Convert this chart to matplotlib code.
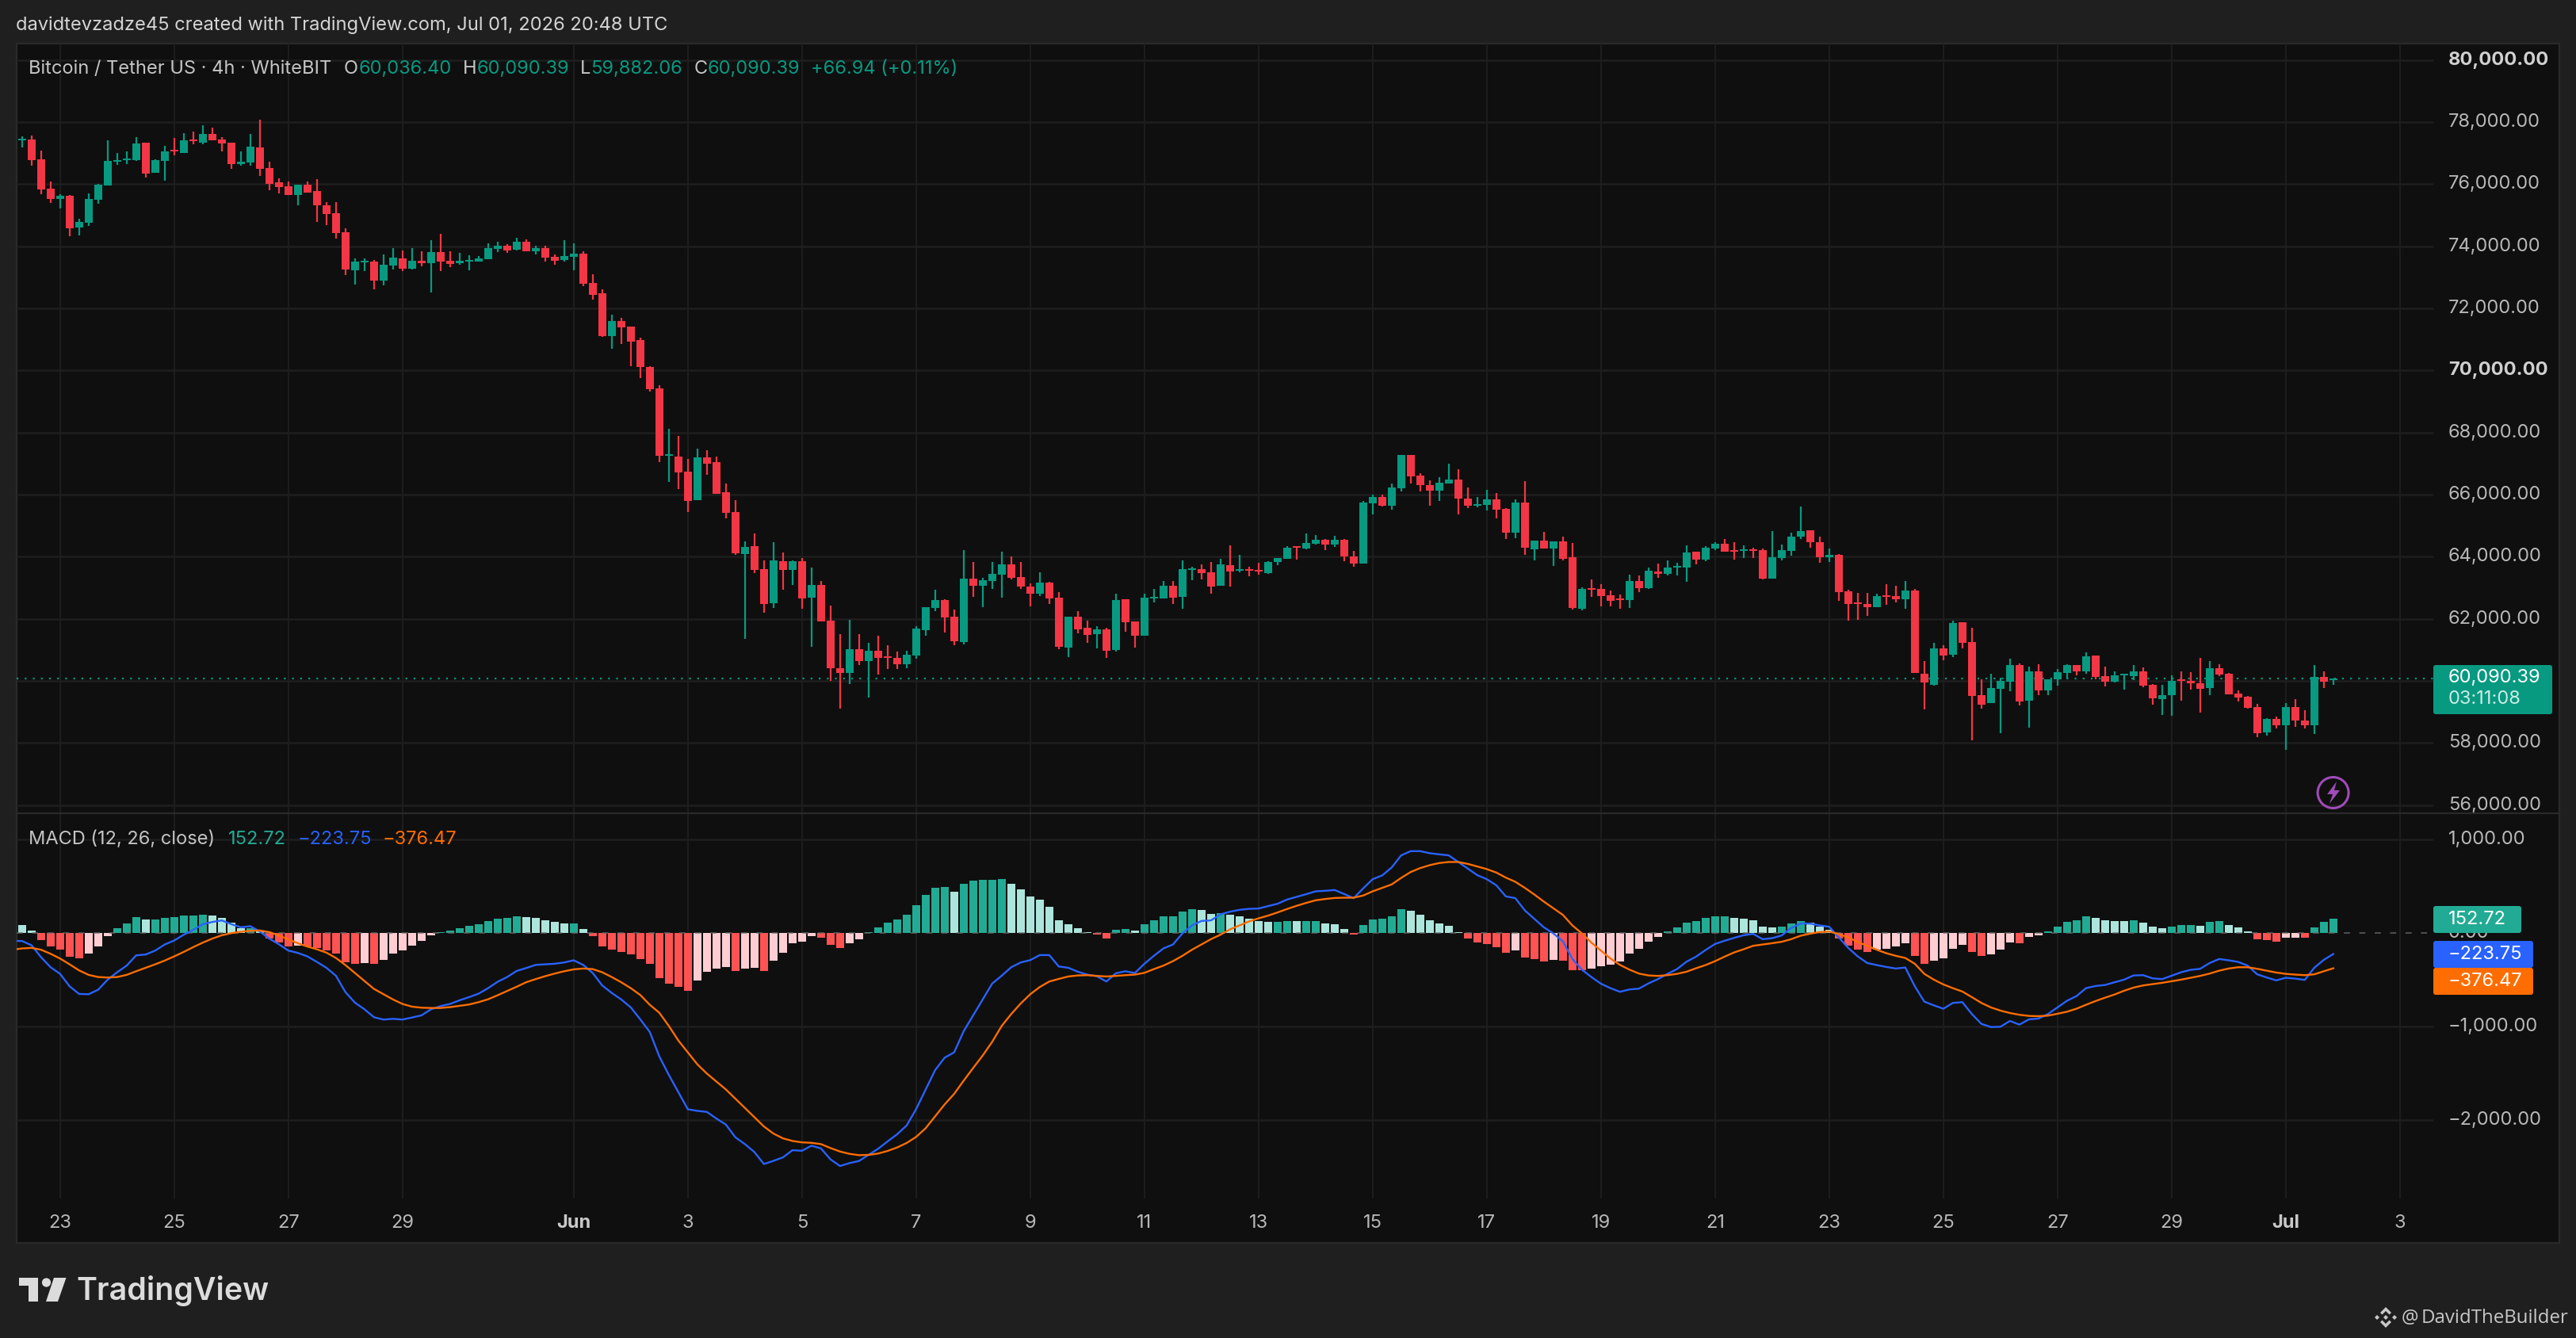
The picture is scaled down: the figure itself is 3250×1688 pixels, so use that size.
import numpy as np
import matplotlib
matplotlib.use('Agg')
import matplotlib.pyplot as plt
from matplotlib.patches import Polygon, Circle, FancyBboxPatch

plt.rcParams['font.family'] = ['Inter', 'DejaVu Sans']

# 4h candles, index 0 = May 23 00:00, six bars per day
opens = [
    77421, 77438, 76800, 75855, 75524, 75626, 74604, 74758, 75498, 75958,
    76723, 76775, 76775, 77336, 76366, 76749, 77106, 77004, 77438, 77336,
    77617, 77438, 77336, 76647, 76698, 77183, 76519, 76060, 75932, 75651,
    75983, 75779, 75319, 75064, 74451, 73226, 73481, 73507, 72894, 73379,
    73609, 73277, 73532, 73456, 73813, 73532, 73456, 73507, 73507, 73583,
    73915, 74017, 73889, 74145, 73838, 73940, 73660, 73558, 73660, 73762,
    72817, 72485, 71107, 71592, 71413, 70979, 70119, 69430, 67260, 67234,
    66749, 65830, 67209, 67055, 66085, 65447, 64094, 64349, 63609, 62511,
    63864, 63583, 63864, 62690, 63098, 61949, 60418, 60264, 61030, 60647,
    60979, 60800, 60749, 60545, 60826, 61643, 62358, 62613, 62077, 61260,
    63303, 63073, 63226, 63430, 63762, 63354, 63047, 62818, 63175, 62690,
    61082, 62077, 61720, 61516, 61669, 61005, 62639, 61924, 61464, 62664,
    62664, 63073, 62716, 63583, 63609, 63507, 63073, 63737, 63558, 63609,
    63583, 63481, 63821, 63923, 64332, 64255, 64408, 64536, 64383, 64536,
    64000, 63770, 65711, 65915, 65634, 66196, 67268, 66604, 66298, 66119,
    66349, 66477, 65864, 65634, 65660, 65838, 65532, 64766, 65736, 64230,
    64511, 64255, 64485, 63974, 62315, 62979, 62953, 62749, 62647, 62596,
    63209, 62979, 63515, 63438, 63643, 63643, 64153, 63898, 64255, 64408,
    64204, 64179, 64230, 64204, 63285, 63949, 64179, 64638, 64843, 64460,
    63974, 64051, 62877, 62519, 62468, 62366, 62749, 62723, 62621, 62902,
    60239, 59881, 61055, 60851, 61898, 61260, 59549, 59294, 59754, 59983,
    60519, 59370, 60315, 59703, 60060, 60264, 60519, 60315, 60826, 60162,
    59983, 60187, 60162, 60315, 59881, 59421, 59549, 60060, 60009, 59932,
    59779, 60417, 60239, 59600, 59498, 59166, 58349, 58783, 58579, 59166,
    58732, 58579, 60136, 60036.40,
]
highs = [
    77540, 77566, 77081, 76085, 75677, 75651, 74885, 75702, 76009, 77413,
    77004, 77055, 77515, 77336, 76800, 77234, 77489, 77643, 77694, 77898,
    77821, 77515, 77336, 77055, 77617, 78077, 76723, 76187, 76085, 75983,
    76085, 76162, 75421, 75421, 74579, 73609, 73609, 73558, 73736, 73940,
    73864, 73940, 73838, 74196, 74400, 73838, 73787, 73711, 73685, 74094,
    74145, 74068, 74272, 74221, 74017, 74017, 73736, 74196, 74094, 73838,
    73098, 72613, 71796, 71694, 71413, 71056, 70137, 69532, 68128, 67898,
    67158, 67490, 67438, 67234, 66366, 65830, 64503, 64758, 63890, 64477,
    64145, 63890, 63966, 63660, 63226, 62434, 61515, 61975, 61515, 61235,
    61464, 61158, 60954, 60979, 61771, 62384, 62945, 62639, 62307, 64222,
    63839, 63328, 63839, 64171, 64017, 63839, 63149, 63507, 63200, 62869,
    62077, 62256, 61950, 61771, 61720, 62818, 62639, 61924, 62818, 62971,
    63226, 63226, 63890, 63686, 63762, 63839, 63941, 64375, 64069, 63686,
    63813, 63860, 63949, 64332, 64332, 64740, 64689, 64562, 64664, 64562,
    64179, 65787, 65991, 65991, 66349, 67268, 67268, 66681, 66451, 66553,
    66988, 66809, 66221, 65915, 66145, 66043, 65558, 65838, 66425, 64511,
    64791, 64485, 64638, 64434, 63004, 63260, 63106, 62902, 62774, 63413,
    63387, 63643, 63770, 63872, 63796, 64357, 64153, 64332, 64460, 64562,
    64460, 64357, 64281, 64255, 64817, 64383, 64766, 65608, 64843, 64638,
    64255, 64077, 62928, 62826, 62826, 62800, 63106, 63055, 63209, 62953,
    60647, 61234, 61158, 61949, 61898, 61719, 60060, 60239, 60111, 60724,
    60570, 60468, 60545, 60060, 60392, 60545, 60519, 60928, 60826, 60468,
    60315, 60239, 60519, 60443, 59907, 59881, 60187, 60315, 60290, 60749,
    60647, 60545, 60264, 59702, 59523, 59268, 58809, 58860, 59294, 59421,
    59064, 60519, 60315, 60090.39,
]
lows = [
    77183, 76604, 75677, 75396, 75217, 74324, 74349, 74656, 75370, 75958,
    76621, 76647, 76749, 76213, 76366, 76111, 76928, 77004, 77285, 77285,
    77413, 77055, 76494, 76596, 76596, 76264, 75804, 75702, 75651, 75319,
    75728, 74783, 74681, 74247, 73073, 72766, 73200, 72613, 72741, 73251,
    73200, 73251, 73354, 72511, 73200, 73328, 73404, 73226, 73507, 73583,
    73813, 73787, 73864, 73838, 73736, 73507, 73404, 73507, 73226, 72715,
    72281, 71081, 70698, 70851, 70137, 69754, 69320, 67055, 66417, 66188,
    65447, 65830, 66647, 66034, 65243, 64069, 61362, 63481, 62205, 62358,
    62945, 63098, 62333, 61107, 61924, 60009, 59116, 59907, 60520, 59474,
    60213, 60392, 60392, 60418, 60724, 61464, 62256, 61567, 61158, 61184,
    62716, 62384, 62971, 62690, 63277, 62971, 62409, 62741, 62486, 61030,
    60775, 61541, 61235, 61056, 60749, 60954, 61592, 61081, 61464, 62537,
    62664, 62486, 62333, 63252, 63277, 62818, 63073, 63047, 63507, 63379,
    63430, 63440, 63719, 63923, 63898, 64230, 64383, 64204, 64306, 63847,
    63668, 63770, 65353, 65609, 65507, 66094, 66349, 66094, 65634, 65787,
    66349, 65353, 65558, 65583, 65490, 65226, 64562, 64587, 64051, 63872,
    64255, 63694, 63872, 62289, 62264, 62698, 62391, 62391, 62315, 62340,
    62851, 62953, 63311, 63387, 63387, 63183, 63745, 63847, 64204, 64153,
    63898, 63949, 63949, 63260, 63285, 63872, 64026, 64562, 64281, 63796,
    63821, 62570, 61932, 61958, 62085, 62366, 62443, 62519, 62315, 60247,
    59090, 59856, 60673, 60775, 61055, 58094, 59115, 59294, 58324, 59677,
    59217, 58502, 59549, 59549, 59856, 60085, 60187, 60239, 60060, 59830,
    59958, 59728, 60034, 59805, 59243, 58911, 58885, 59370, 59728, 58987,
    59549, 60162, 59575, 59345, 59115, 58196, 58247, 58477, 57787, 58528,
    58477, 58298, 59779, 59882.06,
]
closes = [
    77472, 76775, 75830, 75524, 75626, 74579, 74783, 75524, 75983, 76749,
    76775, 76826, 77311, 76340, 76775, 77055, 77055, 77413, 77387, 77617,
    77413, 77311, 76647, 76723, 77209, 76494, 76009, 75907, 75651, 75983,
    75728, 75319, 75038, 74426, 73251, 73507, 73532, 72894, 73404, 73634,
    73277, 73532, 73456, 73813, 73507, 73430, 73532, 73558, 73609, 73940,
    74017, 73864, 74145, 73838, 73940, 73634, 73532, 73685, 73762, 72792,
    72434, 71107, 71592, 71387, 70928, 70111, 69404, 67260, 67311, 66724,
    65804, 67209, 67004, 66034, 65422, 64120, 64324, 63583, 62486, 63890,
    63583, 63864, 62664, 63098, 61924, 60418, 60264, 61030, 60647, 60979,
    60749, 60749, 60545, 60852, 61694, 62384, 62613, 62052, 61286, 63303,
    63073, 63252, 63456, 63762, 63328, 63047, 62818, 63175, 62664, 61107,
    62077, 61669, 61490, 61669, 60979, 62613, 61898, 61464, 62690, 62716,
    63073, 62690, 63609, 63635, 63481, 63047, 63762, 63532, 63609, 63558,
    63532, 63839, 63949, 64281, 64281, 64434, 64536, 64383, 64536, 64000,
    63770, 65736, 65915, 65634, 66221, 67268, 66579, 66298, 66119, 66375,
    66477, 65864, 65634, 65685, 65838, 65507, 64766, 65736, 64281, 64511,
    64255, 64485, 63923, 62340, 62953, 62928, 62723, 62570, 62596, 63209,
    62979, 63540, 63438, 63643, 63694, 64128, 63898, 64281, 64408, 64153,
    64153, 64230, 64179, 63285, 63974, 64204, 64638, 64817, 64460, 63974,
    64051, 62851, 62468, 62468, 62366, 62723, 62698, 62621, 62902, 60247,
    59958, 61055, 60826, 61873, 61234, 59524, 59243, 59779, 60009, 60519,
    59345, 60315, 59703, 60060, 60290, 60519, 60315, 60800, 60136, 59983,
    60187, 60239, 60315, 59856, 59447, 59549, 60009, 60009, 59932, 59754,
    60417, 60213, 59575, 59473, 59141, 58324, 58783, 58579, 59166, 58732,
    58579, 60136, 59983, 60090.39,
]

hist = [
    85, 25, -76, -144, -178, -254, -271, -220, -144, -34,
    51, 102, 170, 144, 144, 161, 170, 187, 187, 195,
    187, 161, 110, 51, 51, 17, -59, -102, -144, -136,
    -144, -161, -187, -220, -314, -331, -322, -331, -288, -220,
    -187, -136, -85, -25, 8, 25, 51, 76, 93, 127,
    153, 161, 178, 170, 161, 136, 119, 102, 102, 42,
    -34, -144, -178, -204, -229, -280, -331, -483, -543, -577,
    -619, -509, -416, -382, -365, -407, -382, -373, -407, -297,
    -212, -110, -93, -34, -51, -127, -161, -110, -68, 8,
    59, 110, 144, 195, 297, 407, 483, 492, 441, 526,
    560, 568, 568, 577, 526, 466, 390, 356, 280, 136,
    93, 51, 8, -17, -59, 34, 42, 25, 93, 136,
    178, 178, 229, 254, 246, 204, 212, 195, 178, 153,
    127, 119, 119, 127, 125, 127, 127, 102, 93, 42,
    -17, 85, 144, 153, 178, 254, 237, 195, 136, 102,
    76, 8, -59, -102, -119, -153, -212, -187, -263, -280,
    -305, -288, -297, -399, -399, -382, -356, -339, -305, -220,
    -170, -93, -42, 17, 59, 110, 127, 161, 178, 178,
    161, 153, 136, 68, 59, 68, 102, 127, 110, 68,
    34, -59, -136, -178, -204, -178, -170, -144, -110, -246,
    -331, -297, -271, -170, -127, -204, -246, -229, -178, -102,
    -110, -42, -25, 17, 68, 119, 136, 178, 161, 136,
    133, 130, 136, 110, 68, 51, 68, 85, 85, 76,
    119, 127, 85, 59, 17, -68, -76, -93, -51, -49,
    -51, 59, 119, 152.72,
]
# both lines start one bar earlier than the candles, at the pane's left edge
macd = [
    -82,
    -85, -130, -258, -365, -436, -569, -651, -654, -606, -498,
    -419, -348, -238, -229, -187, -122, -79, -17, 34, 96,
    119, 136, 96, 62, 74, 17, -59, -119, -187, -212,
    -249, -308, -371, -456, -631, -744, -815, -900, -925, -917,
    -925, -903, -880, -815, -781, -758, -719, -685, -648, -589,
    -521, -470, -405, -374, -340, -334, -328, -314, -291, -340,
    -427, -560, -640, -710, -795, -923, -1058, -1319, -1517, -1701,
    -1885, -1902, -1913, -1984, -2049, -2185, -2258, -2343, -2471, -2437,
    -2400, -2323, -2329, -2275, -2304, -2421, -2492, -2461, -2438, -2373,
    -2308, -2229, -2153, -2059, -1884, -1675, -1466, -1333, -1276, -1050,
    -880, -710, -540, -456, -365, -314, -289, -235, -235, -357,
    -371, -413, -444, -461, -518, -430, -408, -427, -328, -243,
    -164, -122, -3, 82, 130, 136, 201, 229, 249, 260,
    263, 289, 314, 359, 388, 416, 447, 453, 461, 419,
    374, 478, 577, 617, 702, 832, 877, 877, 855, 843,
    832, 761, 691, 620, 577, 512, 393, 374, 243, 153,
    62, -3, -88, -277, -391, -470, -541, -589, -628, -603,
    -594, -538, -492, -436, -385, -306, -252, -181, -116, -82,
    -51, -23, -8, -65, -54, -25, 54, 102, 102, 82,
    68, -45, -158, -249, -320, -342, -362, -379, -368, -569,
    -733, -773, -809, -747, -739, -866, -971, -1005, -1002, -940,
    -979, -923, -914, -866, -795, -724, -674, -589, -566, -555,
    -526, -498, -453, -450, -484, -492, -456, -419, -393, -382,
    -320, -277, -291, -308, -348, -441, -475, -506, -478, -487,
    -501, -371, -286, -223.75,
]
signal = [
    -178,
    -164, -158, -178, -221, -272, -334, -399, -447, -470, -475,
    -470, -447, -408, -371, -334, -294, -249, -201, -150, -102,
    -59, -23, 0, 14, 25, 28, 11, -25, -68, -108,
    -144, -173, -209, -266, -342, -427, -512, -597, -654, -710,
    -758, -787, -798, -801, -801, -792, -778, -764, -739, -708,
    -665, -620, -574, -526, -492, -461, -433, -408, -388, -379,
    -385, -419, -470, -526, -589, -662, -767, -852, -993, -1149,
    -1276, -1404, -1503, -1588, -1673, -1772, -1871, -1970, -2069, -2145,
    -2196, -2224, -2239, -2244, -2258, -2300, -2337, -2362, -2376, -2373,
    -2359, -2331, -2294, -2246, -2181, -2088, -1961, -1833, -1720, -1579,
    -1443, -1310, -1163, -993, -866, -753, -654, -577, -518, -490,
    -464, -453, -450, -458, -464, -458, -450, -444, -425, -385,
    -348, -300, -243, -178, -122, -65, -17, 40, 82, 125,
    158, 187, 221, 258, 292, 323, 351, 365, 376, 379,
    379, 402, 447, 484, 521, 591, 654, 696, 727, 750,
    761, 761, 741, 713, 685, 648, 594, 549, 484, 413,
    337, 266, 195, 82, -3, -102, -187, -272, -340, -391,
    -433, -453, -458, -450, -436, -413, -376, -342, -300, -252,
    -207, -173, -136, -122, -108, -93, -65, -28, -6, 11,
    17, -11, -45, -96, -136, -178, -215, -243, -266, -328,
    -436, -498, -549, -589, -625, -685, -747, -795, -829, -855,
    -874, -886, -889, -883, -863, -841, -809, -767, -727, -691,
    -657, -617, -583, -560, -546, -532, -515, -498, -478, -458,
    -433, -402, -379, -365, -365, -382, -402, -422, -436, -444,
    -450, -441, -408, -376.47,
]

price_ticks = [80000, 78000, 76000, 74000, 72000, 70000, 68000, 66000, 64000, 62000, 60000, 58000, 56000]
price_bold = [80000, 70000]
macd_ticks = [1000, 0, -1000, -2000]
macd_tick_labels = ['1,000.00', '0.00', '\u22121,000.00', '\u22122,000.00']
time_ticks = [0, 12, 24, 36, 54, 66, 78, 90, 102, 114, 126, 138, 150, 162, 174, 186, 198, 210, 222, 234, 246]
time_labels = ['23', '25', '27', '29', 'Jun', '3', '5', '7', '9', '11', '13', '15', '17', '19', '21', '23', '25', '27', '29', 'Jul', '3']
last_price = 60090.39

# colours
OUTER = '#1f1f1f'
PANE = '#0f0f0f'
GRID = '#1e1e1e'
EDGE = '#2a2a2a'
TXT = '#b8b8b8'
UP = '#089981'
DOWN = '#f23645'
H_UP, H_UP_L = '#22ab94', '#ace5dc'
H_DN, H_DN_L = '#ff5252', '#ffcdd2'
BLUE = '#2962ff'
ORANGE = '#ff6d00'

# layout in pixels
W, H = 3250, 1688
LEFT, RIGHT = 21, 3229
TOP, SPLIT, MACD_BOTTOM, BOTTOM = 55, 1026, 1512, 1568
GRID_END = 3070
X0, BAR = 75.8, 12.0     # pixel of index 0, pixels per bar


def px_x(p):
    return (p - X0) / BAR


def add_px_axes(top, bottom):
    return fig.add_axes([LEFT / W, 1 - bottom / H, (RIGHT - LEFT) / W, (bottom - top) / H])


fig = plt.figure(figsize=(W / 100, H / 100), dpi=100, facecolor=OUTER)

# panel backdrop incl. time strip
ax_time = add_px_axes(TOP, BOTTOM)
ax_time.set_facecolor(PANE)
ax_time.set_xlim(px_x(LEFT), px_x(RIGHT))
ax_time.set_ylim(BOTTOM, TOP)
ax_time.set_xticks([])
ax_time.set_yticks([])
for s in ax_time.spines.values():
    s.set_color(EDGE)
    s.set_linewidth(1.6)

ax = add_px_axes(TOP, SPLIT)
ax_m = add_px_axes(SPLIT, MACD_BOTTOM)
for a in (ax, ax_m):
    a.patch.set_alpha(0)
    a.axis('off')
    a.set_xlim(px_x(LEFT), px_x(RIGHT))
    for t in time_ticks:
        a.axvline(t, color=GRID, lw=1.4, zorder=1)

# price pane, 78000 sits at y=154 and 2000 USD spans 78.34 px
usd_px = 78.34 / 2000
ax.set_ylim(78000 - (SPLIT - 154) / usd_px, 78000 + (154 - TOP) / usd_px)
ax.hlines(price_ticks, px_x(LEFT), px_x(GRID_END), color=GRID, lw=1.8, zorder=1)

idx = np.arange(-4, 240)
line_idx = np.arange(-5, 240)
o, h, l, c = map(np.array, (opens, highs, lows, closes))
cols = np.where(c >= o, UP, DOWN)
ax.vlines(idx, l, h, colors=cols, lw=1.6, zorder=3)
ax.bar(idx, np.abs(c - o), bottom=np.minimum(o, c), width=10 / BAR, color=cols, lw=0, zorder=4)
ax.hlines(last_price, px_x(LEFT), px_x(GRID_END), color=UP, lw=1.6, linestyles=(0, (1, 3.6)), zorder=2)

for t in price_ticks:
    ax.text(px_x(3089), t, f'{t:,.2f}', color='#d0d0d0' if t in price_bold else TXT, fontsize=17,
            fontweight='bold' if t in price_bold else 'normal', va='center', ha='left', zorder=5)

# MACD pane
m_px = 0.1179
ax_m.set_ylim((1177.2 - MACD_BOTTOM) / m_px, (1177.2 - SPLIT) / m_px)
ax_m.hlines([t for t in macd_ticks if t != 0], px_x(LEFT), px_x(GRID_END), color=GRID, lw=1.8, zorder=1)
ax_m.hlines(0, px_x(LEFT), px_x(GRID_END), color='#6a6a6a', lw=1.4, linestyles=(0, (4, 6)), alpha=0.7, zorder=5)

hv = np.array(hist)
prev = np.r_[hv[0] + 1, hv[:-1]]
hcols = np.where(hv > 0, np.where(hv >= prev, H_UP, H_UP_L), np.where(hv <= prev, H_DN, H_DN_L))
ax_m.bar(idx, hv, width=10 / BAR, color=hcols, lw=0, zorder=3)
ax_m.plot(line_idx, signal, color=ORANGE, lw=1.7, zorder=6)
ax_m.plot(line_idx, macd, color=BLUE, lw=1.7, zorder=5.5)

for t, lab in zip(macd_ticks, macd_tick_labels):
    ax_m.text(px_x(3089), t, lab, color=TXT, fontsize=17, va='center', ha='left', zorder=5)

# overlay in pixel coordinates for header, boxes and logos
over = fig.add_axes([0, 0, 1, 1])
over.set_xlim(0, W)
over.set_ylim(H, 0)
over.axis('off')
over.patch.set_alpha(0)


def label(x, y, s, color=TXT, size=17, **kw):
    over.text(x, y, s, color=color, fontsize=size, va=kw.pop('va', 'center'), ha=kw.pop('ha', 'left'), zorder=8, **kw)


def box(x0, x1, y0, y1, color):
    over.add_patch(FancyBboxPatch((x0, y0 + 2), x1 - x0 - 2, y1 - y0 - 4, boxstyle='round,pad=2,rounding_size=3',
                                  fc=color, ec='none', zorder=6))


over.add_line(plt.Line2D([LEFT, RIGHT], [SPLIT, SPLIT], color=EDGE, lw=1.6))
for t, lab in zip(time_ticks, time_labels):
    bold = lab in ('Jun', 'Jul')
    label(X0 + t * BAR, 1543, lab, color='#c8c8c8' if bold else TXT, ha='center', fontweight='bold' if bold else 'normal')

label(20, 32, 'davidtevzadze45 created with TradingView.com, Jul 01, 2026 20:48 UTC', color='#d4d4d4', size=17.05)

# legend row
label(36, 87, 'Bitcoin / Tether US \u00b7 4h \u00b7 WhiteBIT', color='#c4c4c4')
for x, s in [(434, 'O'), (584, 'H'), (732, 'L'), (876, 'C')]:
    label(x, 87, s, color='#c4c4c4')
for x, s in [(453, '60,036.40'), (602, '60,090.39'), (745, '59,882.06'), (893, '60,090.39'), (1023, '+66.94 (+0.11%)')]:
    label(x, 87, s, color=UP)

label(36, 1059, 'MACD (12, 26, close)', color='#c4c4c4')
label(288, 1059, '152.72', color=H_UP)
label(376, 1059, '\u2212223.75', color=BLUE)
label(483, 1059, '\u2212376.47', color=ORANGE)

# price and indicator tags
box(3072, 3220, 839, 901, UP)
label(3089, 855, '60,090.39', color='white')
label(3089, 882, '03:11:08', color='#c9ece5')
box(3072, 3181, 1143, 1177, H_UP)
label(3089, 1160, '152.72', color='white')
box(3072, 3196, 1187, 1221, BLUE)
label(3089, 1204, '\u2212223.75', color='white')
box(3072, 3196, 1221, 1255, ORANGE)
label(3089, 1238, '\u2212376.47', color='white')

# lightning badge
PURPLE = '#a04bb8'
over.add_patch(Circle((2943.6, 1000), 19.5, fc='none', ec=PURPLE, lw=2.2))
over.add_patch(Polygon([(2948, 986), (2936, 1002), (2943, 1002), (2939, 1014), (2952, 997), (2945, 997)],
                       fc=PURPLE, ec='none'))

# TradingView logo
LOGO = '#dcdcdc'
over.add_patch(Polygon([(24, 1612), (48, 1612), (48, 1642), (36, 1642), (36, 1622), (24, 1622)], fc=LOGO, ec='none'))
over.add_patch(Circle((58.5, 1618), 5.6, fc=LOGO, ec='none'))
over.add_patch(Polygon([(68, 1612), (83.5, 1612), (73, 1642), (58, 1642)], fc=LOGO, ec='none'))
label(96, 1629, 'TradingView', color=LOGO, size=28.3, fontweight='semibold')

# watermark with diamond mark
WM = '#c8c8c8'
cx, cy = 3010, 1662
over.add_patch(Polygon([(cx, cy - 13), (cx + 7, cy - 6), (cx + 4.5, cy - 3.5), (cx, cy - 8), (cx - 4.5, cy - 3.5), (cx - 7, cy - 6)], fc=WM, ec='none'))
over.add_patch(Polygon([(cx, cy + 13), (cx + 7, cy + 6), (cx + 4.5, cy + 3.5), (cx, cy + 8), (cx - 4.5, cy + 3.5), (cx - 7, cy + 6)], fc=WM, ec='none'))
for dx in (-11, 0, 11):
    over.add_patch(Polygon([(cx + dx, cy - 3), (cx + dx + 3, cy), (cx + dx, cy + 3), (cx + dx - 3, cy)], fc=WM, ec='none'))
label(3030, 1663, '@', color=WM, size=17.3, family=['Open Sans', 'DejaVu Sans'])
label(3055, 1663, 'DavidTheBuilder', color=WM, size=17.3, family=['Open Sans', 'DejaVu Sans'])

fig.savefig('out.png', dpi=100, facecolor=OUTER)
